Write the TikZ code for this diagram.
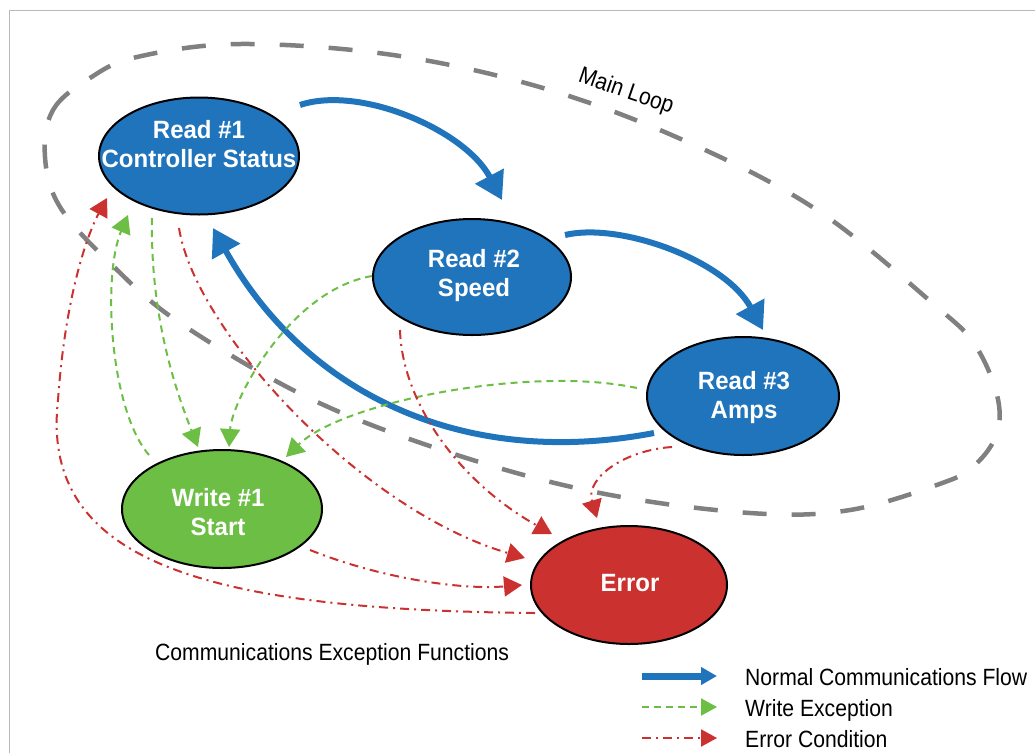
\documentclass[tikz,border=0pt]{standalone}
\usepackage{fontspec}
\setmainfont{Liberation Sans}
\newfontfamily\nodefont[FakeStretch=0.96]{Liberation Sans}
\newfontfamily\narrowfont[FakeStretch=0.9]{Liberation Sans}
\usetikzlibrary{arrows.meta,shapes.geometric}
\definecolor{cblue}{RGB}{31,116,188}
\definecolor{cgreen}{RGB}{108,190,69}
\definecolor{cred}{RGB}{203,49,47}
\definecolor{cgrey}{RGB}{128,128,128}
\definecolor{cframe}{RGB}{185,185,185}
\tikzset{
  ell/.style={ellipse, draw=black, line width=2pt, inner sep=0pt},
  lbl/.style={font=\nodefont\bfseries\fontsize{25}{29}\selectfont, text=white, align=center, inner sep=0pt},
  plain/.style={font=\narrowfont\fontsize{23.5}{28}\selectfont, text=black, inner sep=0pt},
  mainloop/.style={draw=cgrey, line width=4.5pt, dash pattern=on 24pt off 25pt},
  flow/.style={draw=cblue, line width=6pt, -{Triangle[length=27pt,width=31pt]}},
  wex/.style={draw=cgreen, line width=2pt, dash pattern=on 7pt off 5pt, -{Triangle[length=18pt,width=20pt]}},
  err/.style={draw=cred, line width=2pt, dash pattern=on 9pt off 5pt on 2pt off 5pt, -{Triangle[length=18pt,width=20pt]}},
  legflow/.style={draw=cblue, line width=7pt, -{Triangle[length=16pt,width=17pt]}},
  legwex/.style={draw=cgreen, line width=2pt, dash pattern=on 7pt off 5pt, -{Triangle[length=16pt,width=17pt]}},
  legerr/.style={draw=cred, line width=2pt, dash pattern=on 9pt off 5pt on 2pt off 5pt, -{Triangle[length=16pt,width=17pt]}},
}
\begin{document}
\begin{tikzpicture}[x=1pt,y=-1pt]
\useasboundingbox (0,0) rectangle (1035,753);
% frame
\draw[cframe, line width=1pt] (9,753) -- (9,10) -- (1035,10);
% main loop
\draw[mainloop] plot[smooth cycle, tension=0.6] coordinates {(45,157) (53,110) (90,78) (137,57) (240,44) (393,55) (543,88) (683,140) (817,210) (937,307) (975,345) (997,395) (997,433) (976,464) (945,482) (850,510) (750,513) (600,493) (457,455) (313,400) (180,323) (110,263) (60,207)};
\node[plain, rotate=-19] (ml) at (626,92) {Main Loop};
% nodes
\node[ell, fill=cblue, minimum width=200pt, minimum height=117pt] (r1) at (199,156) {};
\node[ell, fill=cblue, minimum width=198pt, minimum height=116pt] (r2) at (472,277) {};
\node[ell, fill=cblue, minimum width=192pt, minimum height=118pt] (r3) at (743,396) {};
\node[ell, fill=cgreen, minimum width=200pt, minimum height=118pt] (w1) at (222,509) {};
\node[ell, fill=cred, minimum width=196pt, minimum height=118pt] (er) at (629,585) {};
\node[lbl] (r1t) at (199,144) {Read \#1\\Controller Status};
\node[lbl] (r2t) at (474,276) {Read \#2\\Speed};
\node[lbl] (r3t) at (744,398) {Read \#3\\Amps};
\node[lbl] (w1t) at (218,512) {Write \#1\\Start};
\node[lbl] (ert) at (630,583) {Error};
% normal flow
\draw[flow] ([shift={(101,-51)}]r1.center) .. controls (360,85) and (465,130) .. ([shift={(30,-77)}]r2.center);
\draw[flow] ([shift={(93,-42)}]r2.center) .. controls (620,222) and (725,260) .. ([shift={(20,-66)}]r3.center);
\draw[flow] ([shift={(-89,37)}]r3.center) .. controls (460,470) and (304,391) .. ([shift={(14,72)}]r1.center);
% write exceptions
\draw[wex] ([shift={(-73,-54)}]w1.center) .. controls (110,410) and (102,276) .. ([shift={(-71,59)}]r1.center);
\draw[wex] ([shift={(-47,62)}]r1.center) .. controls (150,320) and (178,396) .. ([shift={(-24,-62)}]w1.center);
\draw[wex] ([shift={(-100,-1)}]r2.center) .. controls (290,290) and (232,400) .. ([shift={(7,-62)}]w1.center);
\draw[wex] ([shift={(-106,-8)}]r3.center) .. controls (530,365) and (342,402) .. ([shift={(64,-52)}]w1.center);
% error conditions
\draw[err] ([shift={(-94,28)}]er.center) .. controls (200,610) and (40,560) .. (58,400) .. controls (65,300) and (86,237) .. ([shift={(-92,42)}]r1.center);
\draw[err] ([shift={(-20,72)}]r1.center) .. controls (195,330) and (360,510) .. ([shift={(-104,-27)}]er.center);
\draw[err] ([shift={(-72,53)}]r2.center) .. controls (402,400) and (456,480) .. ([shift={(-77,-51)}]er.center);
\draw[err] ([shift={(88,41)}]w1.center) .. controls (380,578) and (460,590) .. ([shift={(-107,0)}]er.center);
\draw[err] ([shift={(-71,51)}]r3.center) .. controls (625,450) and (585,478) .. ([shift={(-32,-67)}]er.center);
% caption
\node[plain, anchor=base west] (cap) at (155,660) {Communications Exception Functions};
% legend
\node[plain, anchor=base west] (leg1) at (745,685) {Normal Communications Flow};
\node[plain, anchor=base west] (leg2) at (745,716) {Write Exception};
\node[plain, anchor=base west] (leg3) at (745,747) {Error Condition};
\coordinate (l1a) at (642,676); \coordinate (l1b) at (717,676);
\coordinate (l2a) at (642,707); \coordinate (l2b) at (717,707);
\coordinate (l3a) at (642,738); \coordinate (l3b) at (717,738);
\draw[legflow] (l1a) -- (l1b);
\draw[legwex] (l2a) -- (l2b);
\draw[legerr] (l3a) -- (l3b);
\end{tikzpicture}
\end{document}
